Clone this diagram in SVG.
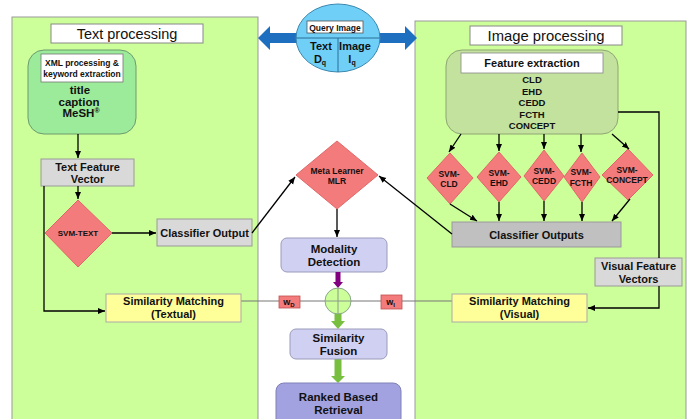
<svg xmlns="http://www.w3.org/2000/svg" width="692" height="419" viewBox="0 0 692 419">
<defs>
<style>
text{font-family:"Liberation Sans",Arial,sans-serif;fill:#111;text-anchor:middle}
.b{font-weight:bold}
.panel{fill:#ccff99;stroke:#999;stroke-width:1}
.title{fill:#fff;stroke:#888;stroke-width:1}
.gray{fill:#d9d9d9;stroke:#999;stroke-width:1}
.dia{fill:#f47b7b;stroke:#e06868;stroke-width:1}
.yel{fill:#ffff99;stroke:#aaa;stroke-width:1}
.lav{fill:#d0d0f2;stroke:#9a9abb;stroke-width:1}
.ln{fill:none;stroke:#000;stroke-width:1.3}
.thin{fill:none;stroke:#777;stroke-width:1}
.f11{font-size:11px}
.f9{font-size:9.5px}
.f85{font-size:8.5px}
</style>
<marker id="ah" markerUnits="userSpaceOnUse" markerWidth="8" markerHeight="8" refX="7" refY="4" orient="auto">
<path d="M0,1 L7,4 L0,7 z" fill="#000"/>
</marker>
</defs>

<g id="text-panel">
<rect class="panel" x="12" y="17" width="246" height="420"/>
<rect class="title" x="51" y="24" width="152" height="19"/>
<text x="127" y="39" style="font-size:14.5px">Text processing</text>
</g>

<g id="image-panel">
<rect class="panel" x="415" y="21" width="271" height="420"/>
<rect class="title" x="470" y="26" width="152" height="19"/>
<text x="546" y="41" style="font-size:14.8px">Image processing</text>
</g>

<g id="query-arrows">
<polygon points="258,38 270,26 270,33 300,33 300,43 270,43 270,50" fill="#1f6fc0"/>
<polygon points="417,38 405,26 405,33 376,33 376,43 405,43 405,50" fill="#1f6fc0"/>
</g>

<g id="query-image">
<ellipse cx="338" cy="38" rx="42" ry="34" fill="#6fcff6" stroke="#3d88b0" stroke-width="1"/>
<line x1="296" y1="38" x2="380" y2="38" stroke="#2a6f96" stroke-width="1"/>
<line x1="338" y1="38" x2="338" y2="72" stroke="#2a6f96" stroke-width="1"/>
<rect x="307" y="21" width="56" height="12" fill="#fff" stroke="#555" stroke-width="0.8"/>
<text x="335" y="30.5" class="b f85">Query Image</text>
<text x="321" y="50" class="b f11">Text</text>
<text x="320" y="63" class="b f11">D<tspan style="font-size:7px" dy="2">q</tspan></text>
<text x="355" y="50" class="b f11">Image</text>
<text x="352" y="63" class="b f11">I<tspan style="font-size:7px" dy="2">q</tspan></text>
</g>

<g id="xml-processing">
<rect x="28" y="50" width="108" height="84" rx="16" fill="#9beb9b" stroke="#6e9a6e" stroke-width="1"/>
<rect x="41" y="54" width="82" height="28" fill="#fff" stroke="#777" stroke-width="0.8"/>
<text x="82" y="66" class="b f85">XML processing &amp;</text>
<text x="82" y="77" class="b f85">keyword extraction</text>
<text x="80" y="94" class="b" style="font-size:11.5px">title</text>
<text x="79" y="105.5" class="b" style="font-size:11.5px">caption</text>
<text x="81" y="117" class="b" style="font-size:11.5px">MeSH<tspan style="font-size:7px" dy="-4">®</tspan></text>
</g>

<g id="feature-extraction">
<rect x="446" y="50" width="172" height="84" rx="16" fill="#c3e29e" stroke="#8ea574" stroke-width="1"/>
<rect x="461" y="53" width="142" height="20" fill="#fff" stroke="#888" stroke-width="0.8"/>
<text x="532" y="67" class="b f11">Feature extraction</text>
<text x="532" y="83" class="b f9">CLD</text>
<text x="532" y="94.5" class="b f9">EHD</text>
<text x="532" y="106" class="b f9">CEDD</text>
<text x="532" y="117.5" class="b f9">FCTH</text>
<text x="532" y="129" class="b f9">CONCEPT</text>
</g>

<g id="text-feature-vector">
<rect class="gray" x="41" y="159" width="93" height="27"/>
<text x="87.5" y="170.5" class="b f11">Text Feature</text>
<text x="87.5" y="183" class="b f11">Vector</text>
</g>

<g id="svm-text">
<polygon class="dia" points="78,200 112,233 78,267 45,233"/>
<text x="78" y="236" class="b" style="font-size:8px">SVM-TEXT</text>
</g>

<g id="classifier-output">
<rect class="gray" x="157" y="219" width="95" height="27"/>
<text x="204.5" y="236.5" class="b f11">Classifier Output</text>
</g>

<g id="meta-learner">
<polygon class="dia" points="337,141 378,175 337,209 296,175"/>
<text x="337" y="173.5" class="b f85">Meta Learner</text>
<text x="337" y="184" class="b f85">MLR</text>
</g>

<g id="modality-detection">
<rect class="lav" x="281" y="238" width="106" height="34" rx="6"/>
<text x="334" y="252.5" class="b" style="font-size:11.5px">Modality</text>
<text x="334" y="265.5" class="b" style="font-size:11.5px">Detection</text>
</g>

<g id="svm-cld">
<polygon class="dia" points="450,153 473,178 450,204 427,178"/>
<text x="449" y="176.5" class="b f85">SVM-</text>
<text x="449" y="187" class="b f85">CLD</text>
</g>
<g id="svm-ehd">
<polygon class="dia" points="499,152 521,177 499,202 477,177"/>
<text x="499" y="175.5" class="b f85">SVM-</text>
<text x="499" y="186" class="b f85">EHD</text>
</g>
<g id="svm-cedd">
<polygon class="dia" points="544,150 564,176 544,201 524,176"/>
<text x="544" y="173.5" class="b f85">SVM-</text>
<text x="544" y="184" class="b f85">CEDD</text>
</g>
<g id="svm-fcth">
<polygon class="dia" points="582,153 600,177 582,202 564,177"/>
<text x="581" y="175" class="b f85">SVM-</text>
<text x="581" y="185.5" class="b f85">FCTH</text>
</g>
<g id="svm-concept">
<polygon class="dia" points="628,149 653,175 628,200 602,175"/>
<text x="627" y="172.5" class="b f85">SVM-</text>
<text x="627" y="183" class="b f85">CONCEPT</text>
</g>

<g id="classifier-outputs">
<rect x="452" y="222" width="169" height="25" fill="#c0c0c0" stroke="#999" stroke-width="1"/>
<text x="536.5" y="238.5" class="b f11">Classifier Outputs</text>
</g>

<g id="visual-feature-vectors">
<rect class="gray" x="595" y="258" width="87" height="28"/>
<text x="638.5" y="270" class="b f11">Visual Feature</text>
<text x="638.5" y="282.5" class="b f11">Vectors</text>
</g>

<g id="connectors">
<line class="thin" x1="241" y1="301" x2="452" y2="301"/>
<path class="ln" d="M78,134 V158" marker-end="url(#ah)"/>
<path class="ln" d="M78,186 V199" marker-end="url(#ah)"/>
<path class="ln" d="M112,233 H156" marker-end="url(#ah)"/>
<path class="ln" d="M252,233 L295,177" marker-end="url(#ah)"/>
<path class="ln" d="M452,234 L379,176" marker-end="url(#ah)"/>
<path class="ln" d="M337,209 V237" marker-end="url(#ah)"/>
<path class="ln" d="M44,186 V311 H105" marker-end="url(#ah)"/>
<path class="ln" d="M618,112 H659 V258"/>
<path class="ln" d="M659,286 V308 H588" marker-end="url(#ah)"/>
<path class="ln" d="M461,134 L449,152" marker-end="url(#ah)"/>
<path class="ln" d="M499,134 V151" marker-end="url(#ah)"/>
<path class="ln" d="M544,134 V149" marker-end="url(#ah)"/>
<path class="ln" d="M581,134 V152" marker-end="url(#ah)"/>
<path class="ln" d="M612,134 L629,149" marker-end="url(#ah)"/>
<path class="ln" d="M450,204 L477,221" marker-end="url(#ah)"/>
<path class="ln" d="M499,202 V221" marker-end="url(#ah)"/>
<path class="ln" d="M544,201 V221" marker-end="url(#ah)"/>
<path class="ln" d="M582,202 V221" marker-end="url(#ah)"/>
<path class="ln" d="M630,199 L612,221" marker-end="url(#ah)"/>
<polygon points="335.5,272 340.5,272 340.5,282 343,282 338,288 333,282 335.5,282" fill="#800080"/>
<polygon points="334.5,313 341.5,313 341.5,321 345,321 338,329 331,321 334.5,321" fill="#78bf3f"/>
<polygon points="334.5,359 341.5,359 341.5,376 345,376 338,383 331,376 334.5,376" fill="#78bf3f"/>
</g>

<g id="fusion">
<circle cx="338" cy="301" r="13" fill="#ccff99" stroke="#8aa88a" stroke-width="1"/>
<line x1="325" y1="301" x2="351" y2="301" stroke="#8a9a8a" stroke-width="1"/>
<line x1="338" y1="288" x2="338" y2="314" stroke="#8a9a8a" stroke-width="1"/>
</g>

<g id="w-d">
<rect x="279" y="296" width="21" height="12" fill="#f47b7b" stroke="#c05050" stroke-width="0.8"/>
<text x="289" y="305" class="b" style="font-size:9px">w<tspan style="font-size:6px" dy="2">D</tspan></text>
</g>
<g id="w-i">
<rect x="381" y="295" width="21" height="14" fill="#f47b7b" stroke="#c05050" stroke-width="0.8"/>
<text x="390.5" y="305" class="b" style="font-size:9px">w<tspan style="font-size:6px" dy="2">I</tspan></text>
</g>

<g id="similarity-textual">
<rect class="yel" x="106" y="294" width="135" height="28"/>
<text x="173.5" y="305" class="b f11">Similarity Matching</text>
<text x="173.5" y="317.5" class="b f11">(Textual)</text>
</g>

<g id="similarity-visual">
<rect class="yel" x="452" y="294" width="135" height="28"/>
<text x="519.5" y="305" class="b f11">Similarity Matching</text>
<text x="519.5" y="317.5" class="b f11">(Visual)</text>
</g>

<g id="similarity-fusion">
<rect class="lav" x="290" y="329" width="97" height="30" rx="6"/>
<text x="338.5" y="341.5" class="b" style="font-size:11.5px">Similarity</text>
<text x="338.5" y="354.5" class="b" style="font-size:11.5px">Fusion</text>
</g>

<g id="ranked-retrieval">
<rect x="276" y="383" width="125" height="50" rx="8" fill="#a2a2e0" stroke="#8080b8" stroke-width="1"/>
<text x="338.5" y="400.5" class="b" style="font-size:11.5px">Ranked Based</text>
<text x="338.5" y="413.5" class="b" style="font-size:11.5px">Retrieval</text>
</g>
</svg>
